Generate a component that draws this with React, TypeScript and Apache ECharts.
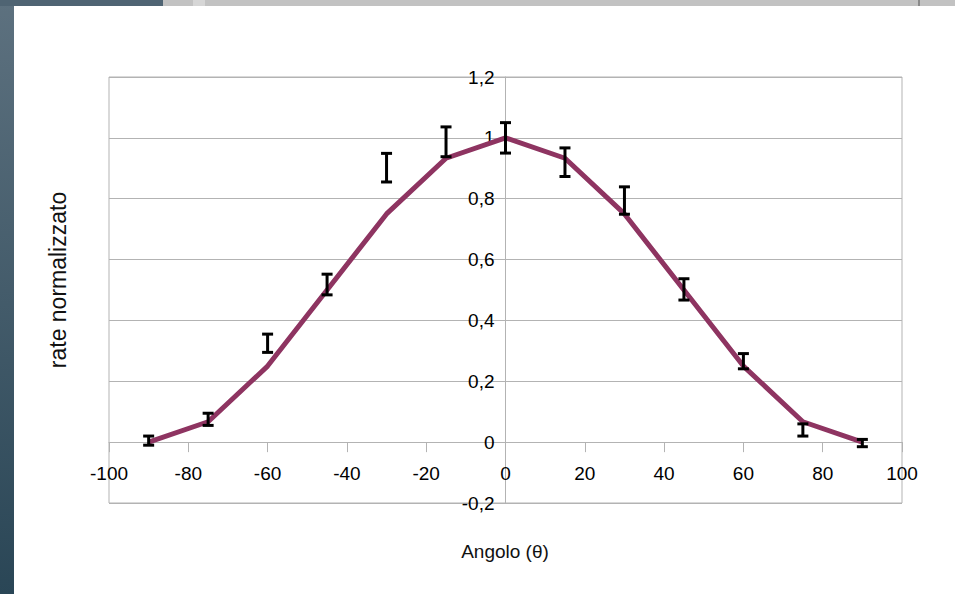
import React, { useEffect, useRef } from "react";
import * as echarts from "echarts";

// Angles (degrees)
const angles = [-90, -75, -60, -45, -30, -15, 0, 15, 30, 45, 60, 75, 90];
// Theoretical curve (normalized rate)
const theory = [0, 0.067, 0.25, 0.5, 0.75, 0.933, 1, 0.933, 0.75, 0.5, 0.25, 0.067, 0];
// Measured normalized rate and its uncertainty
const measured = [0.005, 0.075, 0.325, 0.518, 0.902, 0.987, 1.0, 0.92, 0.794, 0.502, 0.266, 0.04, -0.003];
const errors = [0.015, 0.02, 0.03, 0.034, 0.047, 0.049, 0.05, 0.047, 0.045, 0.035, 0.025, 0.02, 0.012];

const xTitle = "Angolo (θ)";
const yTitle = "rate normalizzato";

const FONT = "'Liberation Sans', Arial, sans-serif";

const X_MIN = -100, X_MAX = 100, Y_MIN = -0.2, Y_MAX = 1.2;
const GRID = { left: 109, right: 53, top: 77, bottom: 91 };
const W = 955, H = 594;

export default function App() {
  const ref = useRef<HTMLDivElement>(null);

  useEffect(() => {
    if (!ref.current) return;
    const chart = echarts.init(ref.current, undefined, { renderer: "svg" });

    const lineData = angles.map((a, i) => [a, theory[i]]);
    const errData = angles.map((a, i) => [a, measured[i] - errors[i], measured[i] + errors[i]]);

    const fmt = (v: number) => String(Math.round(v * 10) / 10).replace(".", ",");

    // place the axes through the origin
    const gw = W - GRID.left - GRID.right;
    const gh = H - GRID.top - GRID.bottom;
    const xOffset = -((0 - Y_MIN) / (Y_MAX - Y_MIN)) * gh;
    const yOffset = -((0 - X_MIN) / (X_MAX - X_MIN)) * gw;

    chart.setOption({
      animation: false,
      backgroundColor: "#ffffff",
      textStyle: { fontFamily: FONT },
      grid: {
        ...GRID,
        show: true,
        borderColor: "#b3b3b3",
        borderWidth: 1,
        backgroundColor: "transparent",
      },
      xAxis: {
        type: "value",
        min: X_MIN,
        max: X_MAX,
        interval: 20,
        offset: xOffset,
        axisLine: { show: true, onZero: false, lineStyle: { color: "#b3b3b3", width: 1 } },
        axisTick: { show: true, length: 10, lineStyle: { color: "#b3b3b3" } },
        axisLabel: {
          color: "#000",
          fontSize: 19,
          fontFamily: FONT,
          margin: 22,
          showMinLabel: true,
          showMaxLabel: true,
        },
        splitLine: { show: false },
      },
      yAxis: {
        type: "value",
        min: Y_MIN,
        max: Y_MAX,
        interval: 0.2,
        offset: yOffset,
        axisLine: { show: true, onZero: false, lineStyle: { color: "#b3b3b3", width: 1 } },
        axisTick: { show: false },
        axisLabel: {
          color: "#000",
          fontSize: 19,
          fontFamily: FONT,
          margin: 11,
          formatter: fmt,
        },
        splitLine: { show: true, lineStyle: { color: "#b3b3b3", width: 1 } },
      },
      graphic: [
        {
          type: "rect",
          shape: { x: 0, y: 0, width: 14, height: 594 },
          style: {
            fill: new echarts.graphic.LinearGradient(0, 0, 0, 1, [
              { offset: 0, color: "#5d717f" },
              { offset: 1, color: "#2a4656" },
            ]),
          },
          z: 10,
        },
        {
          type: "rect",
          shape: { x: 0, y: 0, width: 163, height: 6 },
          style: { fill: "#4f6473" },
          z: 10,
        },
        {
          type: "rect",
          shape: { x: 163, y: 0, width: 792, height: 6 },
          style: { fill: "#c2c2c2" },
          z: 10,
        },
        {
          type: "rect",
          shape: { x: 193, y: 0, width: 12, height: 6 },
          style: { fill: "#d6d6d6" },
          z: 10,
        },
        {
          type: "rect",
          shape: { x: 918, y: 0, width: 2, height: 6 },
          style: { fill: "#8a8a8a" },
          z: 10,
        },
        {
          type: "text",
          x: 58,
          y: 280,
          rotation: Math.PI / 2,
          style: {
            text: yTitle,
            fill: "#111",
            font: `23px ${FONT}`,
            textAlign: "center",
            textVerticalAlign: "middle",
          },
        },
        {
          type: "text",
          x: 505,
          y: 551,
          style: {
            text: xTitle,
            fill: "#111",
            font: `19px ${FONT}`,
            textAlign: "center",
            textVerticalAlign: "middle",
          },
        },
      ],
      series: [
        {
          type: "line",
          data: lineData,
          showSymbol: false,
          symbol: "none",
          lineStyle: { color: "#8e3461", width: 5 },
          z: 2,
        },
        {
          type: "custom",
          data: errData,
          encode: { x: 0, y: [1, 2] },
          z: 3,
          renderItem: (params: any, api: any) => {
            const x = api.value(0);
            const lo = api.value(1);
            const hi = api.value(2);
            const top = api.coord([x, hi]);
            const bot = api.coord([x, lo]);
            const w = 5.5;
            const st = { stroke: "#000", lineWidth: 3 };
            return {
              type: "group",
              children: [
                { type: "line", shape: { x1: top[0], y1: top[1], x2: bot[0], y2: bot[1] }, style: st },
                { type: "line", shape: { x1: top[0] - w, y1: top[1], x2: top[0] + w, y2: top[1] }, style: st },
                { type: "line", shape: { x1: bot[0] - w, y1: bot[1], x2: bot[0] + w, y2: bot[1] }, style: st },
              ],
            };
          },
        },
      ],
    });

    return () => chart.dispose();
  }, []);

  return (
    <div
      ref={ref}
      style={{ position: "fixed", left: 0, top: 0, width: W, height: H }}
    />
  );
}
